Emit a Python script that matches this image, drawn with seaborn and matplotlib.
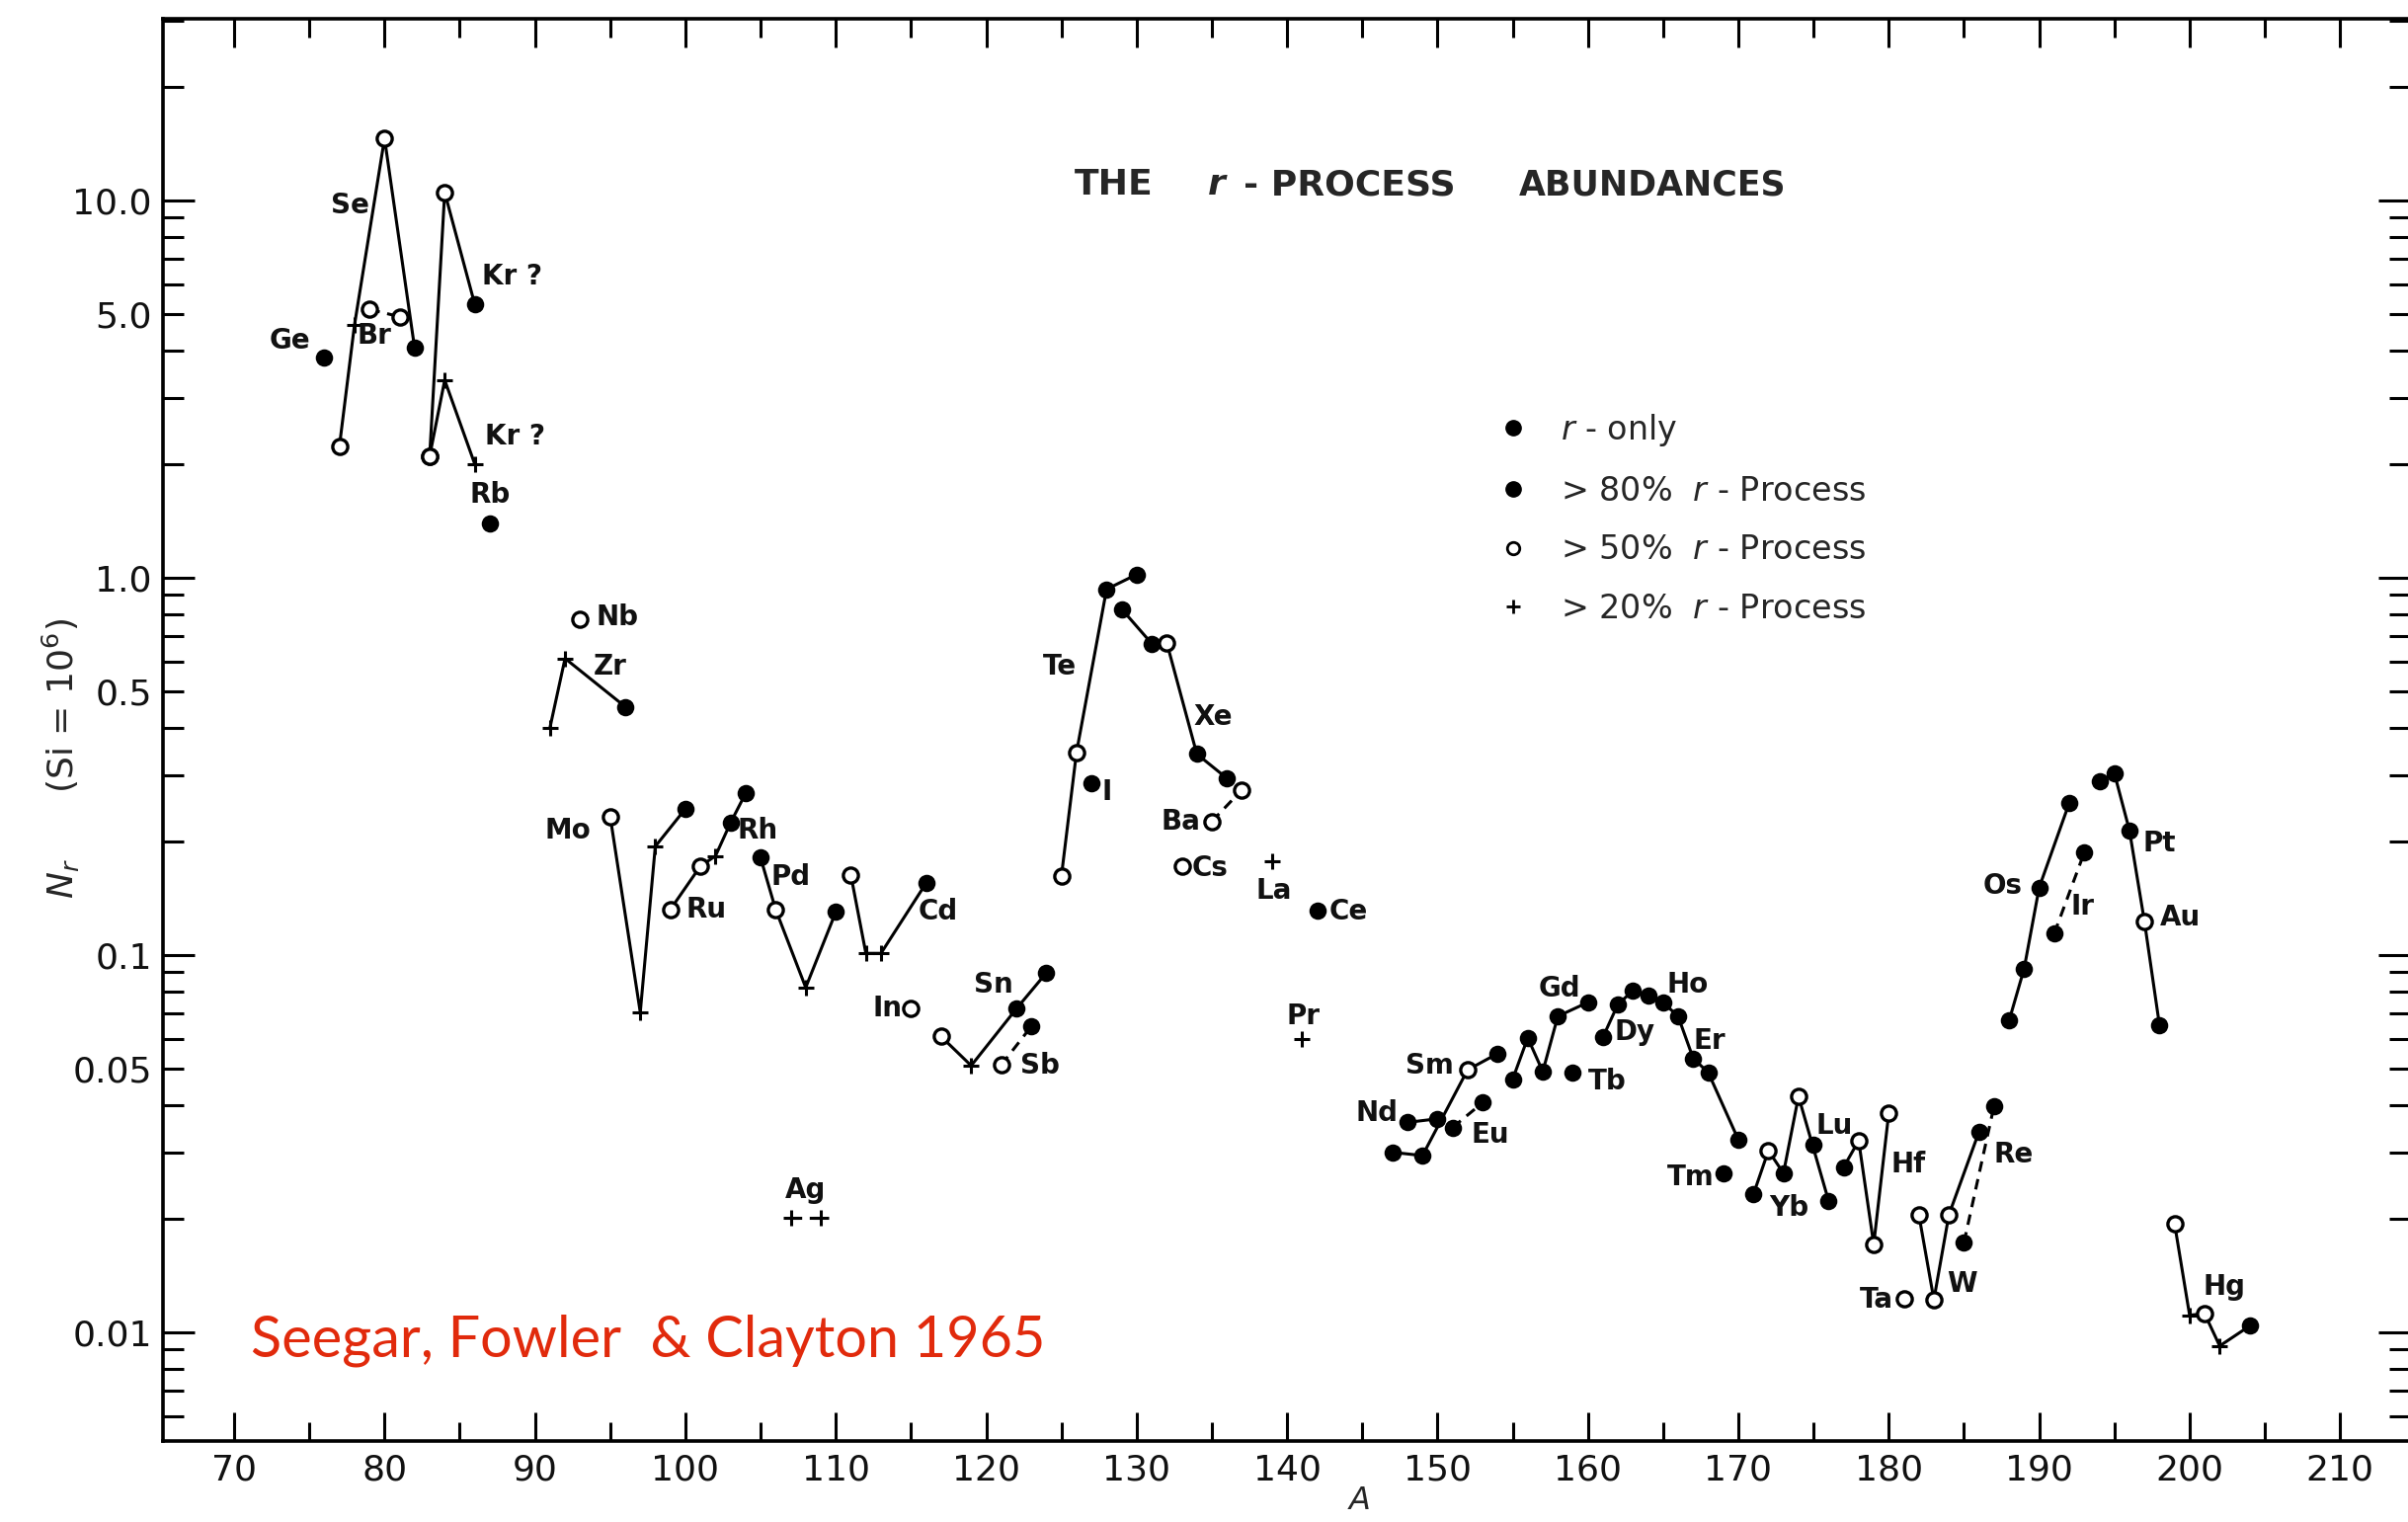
import numpy as np
import pandas as pd
import matplotlib
matplotlib.use("Agg")
import matplotlib.pyplot as plt
import seaborn as sns
from matplotlib.lines import Line2D
from matplotlib.ticker import FixedLocator, FixedFormatter

sns.set_theme(style="ticks")
plt.rcParams["font.family"] = ["DejaVu Sans"]
plt.rcParams["mathtext.fontset"] = "dejavusans"

# ---------------- data: mass number A, abundance N_r, class code ----------------
# class: f = r-only / >80% (filled), o = >50% (open), + = >20%
ge_A = [76];                 ge_N = [3.84];                          ge_c = "f"
se_A = [77, 78, 80, 82];     se_N = [2.23, 4.67, 14.6, 4.06];        se_c = "o+of"
br_A = [79, 81];             br_N = [5.14, 4.92];                    br_c = "oo"
kr1_A = [83, 84, 86];        kr1_N = [2.10, 10.5, 5.3];              kr1_c = "oof"
kr2_A = [83, 84, 86];        kr2_N = [2.10, 3.34, 2.0];              kr2_c = "o++"
rb_A = [87];                 rb_N = [1.39];                          rb_c = "f"
zr_A = [91, 92, 96];         zr_N = [0.401, 0.611, 0.455];           zr_c = "++f"
nb_A = [93];                 nb_N = [0.775];                         nb_c = "o"
mo_A = [95, 97, 98, 100];    mo_N = [0.233, 0.0705, 0.194, 0.244];   mo_c = "o++f"
ru_A = [99, 101, 102, 103, 104]; ru_N = [0.132, 0.172, 0.183, 0.224, 0.268]; ru_c = "oo+ff"
pd_A = [105, 106, 108, 110]; pd_N = [0.181, 0.132, 0.082, 0.130];   pd_c = "fo+f"
ag_A = [107, 109];           ag_N = [0.0201, 0.0201];                ag_c = "++"
cd_A = [111, 112, 113, 116]; cd_N = [0.163, 0.101, 0.101, 0.155];   cd_c = "o++f"
in_A = [115];                in_N = [0.072];                         in_c = "o"
sn_A = [117, 119, 122, 124]; sn_N = [0.0608, 0.0509, 0.072, 0.0897]; sn_c = "o+ff"
sb_A = [121, 123];           sb_N = [0.0511, 0.0647];                sb_c = "of"
te_A = [125, 126, 128, 130]; te_N = [0.162, 0.344, 0.932, 1.02];    te_c = "ooff"
i_A = [127];                 i_N = [0.285];                          i_c = "f"
xe_A = [129, 131, 132, 134, 136]; xe_N = [0.826, 0.669, 0.673, 0.341, 0.294]; xe_c = "ffoff"
cs_A = [133];                cs_N = [0.172];                         cs_c = "o"
ba_A = [135, 137];           ba_N = [0.226, 0.274];                  ba_c = "oo"
la_A = [139];                la_N = [0.177];                         la_c = "+"
pr_A = [141];                pr_N = [0.0597];                        pr_c = "+"
ce_A = [142];                ce_N = [0.131];                         ce_c = "f"
nd_A = [148, 150];           nd_N = [0.0360, 0.0368];                nd_c = "ff"
sm_A = [147, 149, 152, 154]; sm_N = [0.030, 0.0294, 0.0496, 0.0548]; sm_c = "ffof"
eu_A = [151, 153];           eu_N = [0.0349, 0.0406];                eu_c = "ff"
gd_A = [155, 156, 157, 158, 160]; gd_N = [0.0469, 0.0603, 0.0491, 0.0688, 0.0749]; gd_c = "fffff"
tb_A = [159];                tb_N = [0.0488];                        tb_c = "f"
dy_A = [161, 162, 163, 164, 165, 166, 167, 168, 170]
dy_N = [0.0606, 0.0741, 0.0804, 0.078, 0.0749, 0.0687, 0.0532, 0.0488, 0.0324]
dy_c = "fffffffff"
tm_A = [169];                tm_N = [0.0264];                        tm_c = "f"
yb_A = [171, 172, 173, 174, 176]; yb_N = [0.0232, 0.0303, 0.0264, 0.0422, 0.0223]; yb_c = "fofof"
lu_A = [175];                lu_N = [0.0315];                        lu_c = "f"
hf_A = [177, 178, 179, 180]; hf_N = [0.0274, 0.0322, 0.0171, 0.0381]; hf_c = "fooo"
ta_A = [181];                ta_N = [0.0123];                        ta_c = "o"
w_A = [182, 183, 184, 186];  w_N = [0.0205, 0.0122, 0.0205, 0.034];  w_c = "ooof"
re_A = [185, 187];           re_N = [0.0173, 0.0398];                re_c = "ff"
os_A = [188, 189, 190, 192]; os_N = [0.067, 0.092, 0.151, 0.253];   os_c = "ffff"
ir_A = [191, 193];           ir_N = [0.114, 0.187];                  ir_c = "ff"
pt_A = [194, 195, 196, 197, 198]; pt_N = [0.288, 0.303, 0.214, 0.1225, 0.065]; pt_c = "fffof"
hg_A = [199, 200, 201, 202, 204]; hg_N = [0.0194, 0.0111, 0.0112, 0.0092, 0.0104]; hg_c = "o+o+f"

# element labels (text, A position, N position)
lab_text = ["Se", "Ge", "Br", "Kr ?", "Kr ?", "Rb", "Nb", "Zr", "Mo", "Ru", "Rh", "Pd",
            "Cd", "In", "Sn", "Sb", "Ag", "Te", "I", "Xe", "Ba", "Cs", "La", "Ce", "Pr",
            "Nd", "Sm", "Eu", "Gd", "Tb", "Dy", "Ho", "Er", "Tm", "Yb", "Lu", "Hf", "Ta",
            "W", "Re", "Os", "Ir", "Pt", "Au", "Hg"]
lab_A = [77.7, 73.7, 79.3, 88.5, 88.7, 87.0, 95.5, 95.0, 92.2, 101.4, 104.8, 107.0,
         116.8, 113.4, 120.5, 123.6, 108.0, 124.9, 128.0, 135.1, 132.9, 134.9, 139.1, 144.1, 141.1,
         146.0, 149.5, 153.5, 158.1, 161.3, 163.1, 166.6, 168.1, 166.8, 173.4, 176.4, 181.3, 179.2,
         184.9, 188.3, 187.6, 192.9, 198.0, 199.4, 202.3]
lab_N = [9.7, 4.25, 4.37, 6.29, 2.37, 1.66, 0.786, 0.581, 0.214, 0.132, 0.214, 0.161,
         0.130, 0.072, 0.0835, 0.0509, 0.0238, 0.581, 0.270, 0.428, 0.226, 0.170, 0.148, 0.130, 0.0688,
         0.0381, 0.0509, 0.0334, 0.0813, 0.0463, 0.0625, 0.0835, 0.0592, 0.0257, 0.0213, 0.0352, 0.0279, 0.0122,
         0.0134, 0.0296, 0.152, 0.134, 0.198, 0.126, 0.0132]

# axis tick values / labels
x_major = list(range(70, 211, 10))
x_minor = list(range(75, 215, 10))
y_major = [0.01, 0.1, 1.0, 10.0]
y_major_lab = ["0.01", "0.1", "1.0", "10.0"]
y_minor = [0.006, 0.007, 0.008, 0.009, 0.02, 0.03, 0.04, 0.05, 0.06, 0.07, 0.08, 0.09,
           0.2, 0.3, 0.4, 0.5, 0.6, 0.7, 0.8, 0.9, 2, 3, 4, 5, 6, 7, 8, 9, 20, 30]
y_minor_lab = ["" if v not in (0.05, 0.5, 5) else {0.05: "0.05", 0.5: "0.5", 5: "5.0"}[v] for v in y_minor]

legend_labels = ["$r$ - only", "> 80%  $r$ - Process", "> 50%  $r$ - Process", "> 20%  $r$ - Process"]

# ---------------- build frame ----------------
def chain(name, A, N, cls, style="-"):
    return pd.DataFrame({"A": A, "N": N, "cls": list(cls), "chain": name, "style": style})

df = pd.concat([
    chain("Ge", ge_A, ge_N, ge_c), chain("Se", se_A, se_N, se_c), chain("Br", br_A, br_N, br_c, "--"),
    chain("Kr1", kr1_A, kr1_N, kr1_c), chain("Kr2", kr2_A, kr2_N, kr2_c), chain("Rb", rb_A, rb_N, rb_c),
    chain("Zr", zr_A, zr_N, zr_c), chain("Nb", nb_A, nb_N, nb_c), chain("Mo", mo_A, mo_N, mo_c),
    chain("Ru", ru_A, ru_N, ru_c), chain("Pd", pd_A, pd_N, pd_c), chain("Ag", ag_A, ag_N, ag_c, "--"),
    chain("Cd", cd_A, cd_N, cd_c), chain("In", in_A, in_N, in_c), chain("Sn", sn_A, sn_N, sn_c),
    chain("Sb", sb_A, sb_N, sb_c, "--"), chain("Te", te_A, te_N, te_c), chain("I", i_A, i_N, i_c),
    chain("Xe", xe_A, xe_N, xe_c), chain("Cs", cs_A, cs_N, cs_c), chain("Ba", ba_A, ba_N, ba_c, "--"),
    chain("La", la_A, la_N, la_c), chain("Pr", pr_A, pr_N, pr_c), chain("Ce", ce_A, ce_N, ce_c),
    chain("Nd", nd_A, nd_N, nd_c), chain("Sm", sm_A, sm_N, sm_c), chain("Eu", eu_A, eu_N, eu_c, "--"),
    chain("Gd", gd_A, gd_N, gd_c), chain("Tb", tb_A, tb_N, tb_c), chain("Dy", dy_A, dy_N, dy_c),
    chain("Tm", tm_A, tm_N, tm_c), chain("Yb", yb_A, yb_N, yb_c), chain("Lu", lu_A, lu_N, lu_c),
    chain("Hf", hf_A, hf_N, hf_c), chain("Ta", ta_A, ta_N, ta_c), chain("W", w_A, w_N, w_c),
    chain("Re", re_A, re_N, re_c, "--"), chain("Os", os_A, os_N, os_c), chain("Ir", ir_A, ir_N, ir_c, "--"),
    chain("Pt", pt_A, pt_N, pt_c), chain("Hg", hg_A, hg_N, hg_c),
], ignore_index=True)

# ---------------- figure ----------------
W, H = 2438, 1541
fig = plt.figure(figsize=(W / 100, H / 100), dpi=100)
fig.patch.set_facecolor("white")
L, R, T, Bt = 165, 2440, 19, 1459
ax = fig.add_axes([L / W, 1 - Bt / H, (R - L) / W, (Bt - T) / H])
ax.set_facecolor("white")
ax.set_yscale("log")
ax.set_xlim(65.27, 214.65)
ax.set_ylim(0.00515, 30.3)

# connecting lines
for name, sub in df.groupby("chain", sort=False):
    if len(sub) < 2:
        continue
    style = sub["style"].iloc[0]
    sns.lineplot(data=sub, x="A", y="N", sort=False, estimator=None, color="black",
                 linewidth=2.2, ax=ax, legend=False, zorder=2)
    if style == "--":
        ax.lines[-1].set_dashes([3.5, 2.5])

# markers
sns.scatterplot(data=df[df.cls == "f"], x="A", y="N", marker="o", s=160, color="black",
                edgecolor="black", linewidth=0, ax=ax, zorder=3, legend=False)
sns.scatterplot(data=df[df.cls == "o"], x="A", y="N", marker="o", s=120, color="white",
                edgecolor="black", linewidth=2.4, ax=ax, zorder=3, legend=False)
sns.scatterplot(data=df[df.cls == "+"], x="A", y="N", marker="+", s=140, color="black",
                linewidth=2.2, ax=ax, zorder=3, legend=False)

# element labels
for t, a, n in zip(lab_text, lab_A, lab_N):
    ax.text(a, n, t, fontsize=20, fontweight="bold", ha="center", va="center",
            color="#111111", zorder=4)

# title pieces
ax.text(125.9, 11.0, "THE", fontsize=26, fontweight="bold", ha="left", va="center")
ax.text(134.7, 11.0, "r", fontsize=26, fontweight="bold", fontstyle="italic", ha="left", va="center")
ax.text(137.1, 11.0, "- PROCESS", fontsize=26, fontweight="bold", ha="left", va="center")
ax.text(155.4, 11.0, "ABUNDANCES", fontsize=25, fontweight="bold", ha="left", va="center")

# citation
ax.text(71.1, 0.0095, "Seegar, Fowler  & Clayton 1965", fontsize=41.5, color="#e12a0c",
        family=["Lato", "DejaVu Sans"], ha="left", va="center")

# axes styling
for sp in ax.spines.values():
    sp.set_linewidth(2.6)
    sp.set_color("black")
ax.xaxis.set_major_locator(FixedLocator(x_major))
ax.xaxis.set_minor_locator(FixedLocator(x_minor))
ax.yaxis.set_major_locator(FixedLocator(y_major))
ax.yaxis.set_major_formatter(FixedFormatter(y_major_lab))
ax.yaxis.set_minor_locator(FixedLocator(y_minor))
ax.yaxis.set_minor_formatter(FixedFormatter(y_minor_lab))
ax.tick_params(which="both", direction="in", top=True, right=True, color="black", width=2.2,
               labelcolor="#111111")
ax.tick_params(axis="x", which="major", length=21, labelsize=26, pad=9)
ax.tick_params(axis="x", which="minor", length=14)
ax.tick_params(axis="y", which="major", length=23, labelsize=26, pad=8)
ax.tick_params(axis="y", which="minor", length=15, labelsize=26, pad=8)
ax.grid(False)

ax.set_xlabel("$A$", fontsize=23)
ax.xaxis.set_label_coords(0.532, -0.031)
ax.set_ylabel("$N_r$      (Si = 10$^6$)", fontsize=26)
ax.yaxis.set_label_coords(-0.036, 0.48)

# legend
handles = [
    Line2D([], [], marker="o", color="black", linestyle="none", markersize=11),
    Line2D([], [], marker="o", color="black", linestyle="none", markersize=11),
    Line2D([], [], marker="o", markerfacecolor="white", markeredgecolor="black", linestyle="none",
           markersize=9, markeredgewidth=2.0),
    Line2D([], [], marker="+", color="black", linestyle="none", markersize=10, markeredgewidth=2.0),
]
ax.legend(handles, legend_labels, loc="upper left", bbox_to_anchor=(0.6224, 0.7295),
          bbox_transform=fig.transFigure, frameon=False, fontsize=24, handlelength=0.87,
          handletextpad=1.0, labelspacing=0.8, borderpad=0, borderaxespad=0)

fig.savefig("out.png", dpi=100)
